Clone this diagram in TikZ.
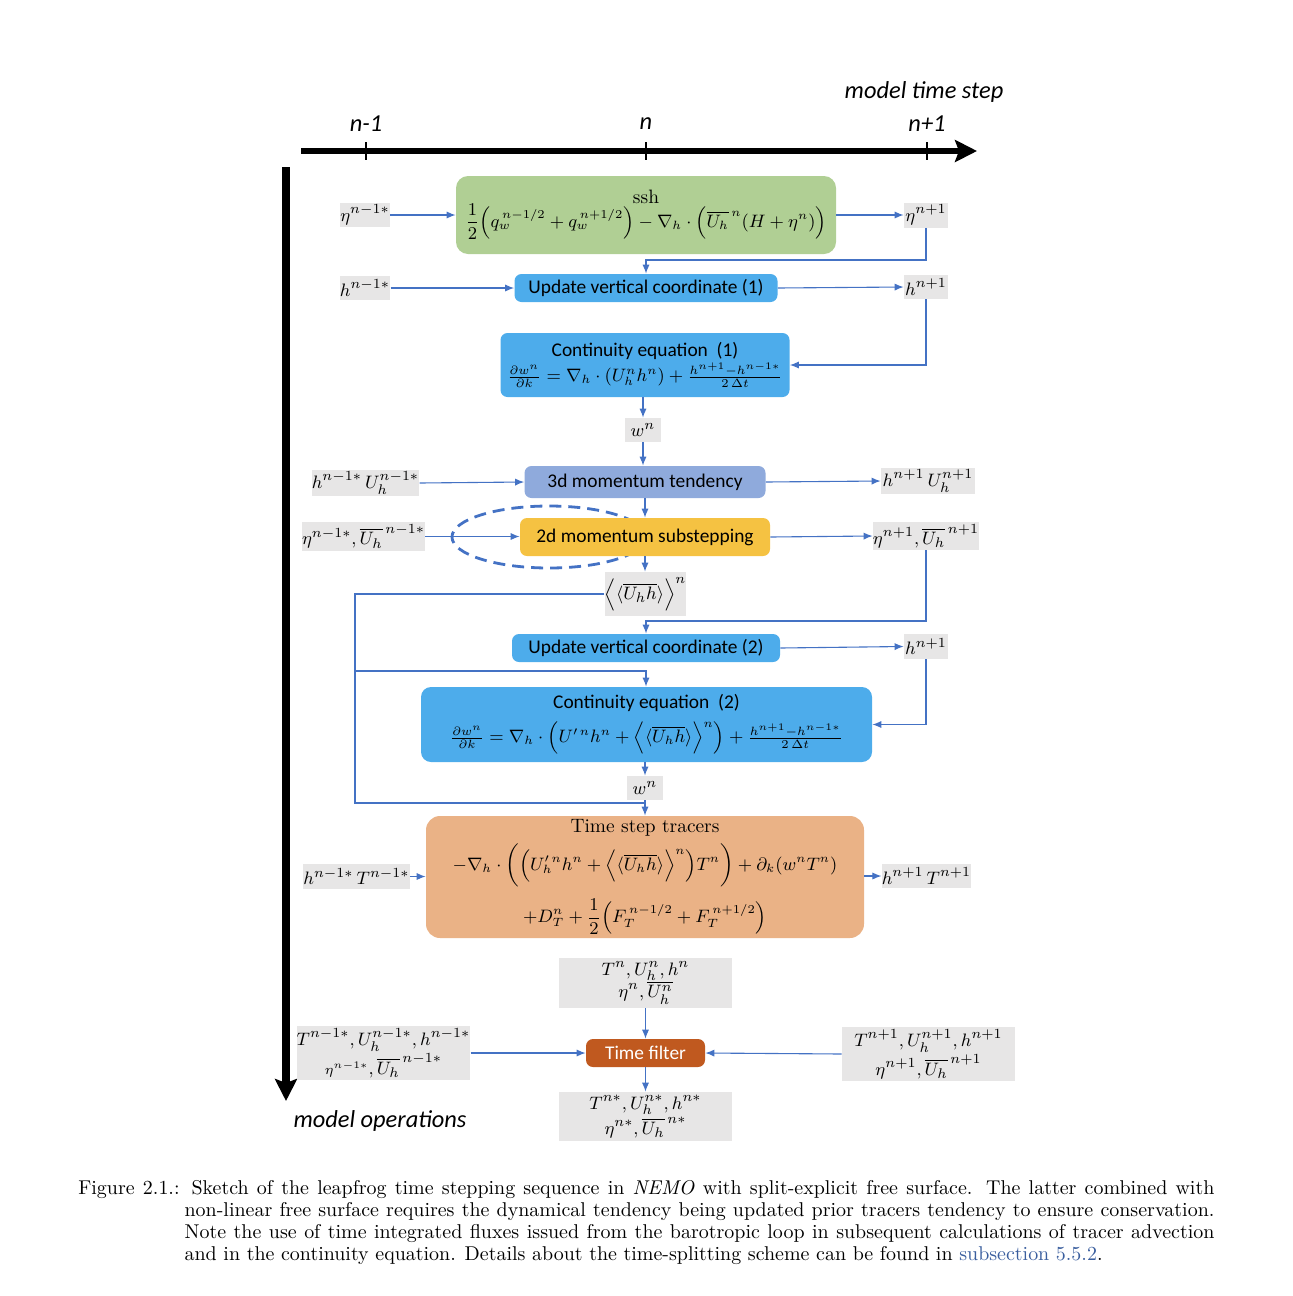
\documentclass[tikz,border=0pt]{standalone}
\usepackage{amsmath}
\usepackage{fontspec}
\newfontfamily\carl{Carlito}
\usetikzlibrary{arrows.meta,calc}
\definecolor{cgreen}{HTML}{B0CF94}
\definecolor{cbluebox}{HTML}{4DACEB}
\definecolor{clav}{HTML}{8FAADC}
\definecolor{cyel}{HTML}{F5C242}
\definecolor{cpeach}{HTML}{EAB286}
\definecolor{cfilter}{HTML}{C0591F}
\definecolor{lgrey}{HTML}{E7E6E6}
\definecolor{cblue}{HTML}{4472C4}
\definecolor{linkblue}{HTML}{3A5E9E}
\newcommand{\fm}{\fontsize{8.9}{10.5}\selectfont}
\begin{document}
\begin{tikzpicture}[x=0.5pt,y=-0.5pt,
  lbl/.style={fill=lgrey, inner sep=0pt, align=center, font=\fontsize{9.5}{11}\selectfont},
  box/.style={rounded corners=3.5pt, inner sep=0pt, align=center, font=\carl\fontsize{9.7}{11.6}\selectfont},
  sz/.style 2 args={minimum width=#1*0.5pt, minimum height=#2*0.5pt},
  conn/.style={draw=cblue, line width=0.55pt, -{Latex[length=4.5pt,width=3.6pt]}},
  cline/.style={draw=cblue, line width=0.55pt},
  axislbl/.style={font=\carl\itshape\fontsize{12.2}{14}\selectfont, inner sep=0pt},
]
\useasboundingbox (0,0) rectangle (1292,1296);

% axes
\coordinate (ax0) at (301,151);
\coordinate (ax1) at (977,151);
\draw[line width=3pt, -{Stealth[length=11pt,width=11pt,inset=2pt]}] (ax0) -- (ax1);
\coordinate (ay0) at (286,167);
\coordinate (ay1) at (286,1101);
\draw[line width=4pt, -{Stealth[length=11pt,width=11pt,inset=2pt]}] (ay0) -- (ay1);
\foreach \xx/\nm in {366/t1,646/t2,927/t3}{
  \coordinate (\nm a) at (\xx,142);
  \coordinate (\nm b) at (\xx,160);
  \draw[line width=1pt] (\nm a) -- (\nm b);
}
\node[axislbl] (ln1) at (366,124) {n-1};
\node[axislbl] (ln2) at (646,124) {n};
\node[axislbl] (ln3) at (927,124) {n+1};
\node[axislbl] (mts) at (924,92) {model time step};
\node[axislbl] (mop) at (380,1121) {model operations};

% ssh
\node[box, fill=cgreen, rounded corners=6pt, sz={380}{78}] (ssh) at (646,215)
  {\rmfamily ssh\\[-1pt] {\fm$\dfrac{1}{2}\Big(q_w^{\,n-1/2}+q_w^{\,n+1/2}\Big)-\nabla_h\cdot\Big(\overline{U_h}^{\,n}(H+\eta^n)\Big)$}};
\node[lbl, sz={50}{24}] (etaL) at (365,215) {$\eta^{n-1*}$};
\node[lbl, sz={44}{25}] (etaR) at (926,215) {$\eta^{n+1}$};

% update 1
\node[box, fill=cbluebox, sz={263}{28}] (upd1) at (646,288) {Update vertical coordinate (1)};
\node[lbl, sz={50}{24}] (hL1) at (365,288) {$h^{n-1*}$};
\node[lbl, sz={44}{24}] (hR1) at (926,287) {$h^{n+1}$};

% continuity 1
\node[box, fill=cbluebox, sz={289}{64}] (cont1) at (645,365)
  {Continuity equation\ \ (1)\\[1pt] {\fm$\frac{\partial w^n}{\partial k}=\nabla_h\cdot(U_h^nh^n)+\frac{h^{n+1}-h^{n-1*}}{2\,\Delta t}$}};
\node[lbl, sz={36}{24}] (wn1) at (643,430) {$w^n$};

% 3d momentum
\node[box, fill=clav, sz={241}{32}] (mom3) at (645,482) {3d momentum tendency};
\node[lbl, sz={105}{26}] (m3L) at (365.5,483) {$h^{n-1*}\,U_h^{n-1*}$};
\node[lbl, sz={94}{26}] (m3R) at (928,481) {$h^{n+1}\,U_h^{n+1}$};

% 2d momentum
\coordinate (ellc) at (549,537);
\draw[cblue, line width=1.4pt, dash pattern=on 6pt off 3.5pt] (ellc) ellipse [x radius=48.5pt, y radius=15.5pt];
\node[box, fill=cyel, sz={250}{38}] (mom2) at (645,537) {2d momentum substepping};
\node[lbl, sz={115}{29}] (m2L) at (363.5,536.5) {$\eta^{n-1*},\overline{U_h}^{\,n-1*}$};
\node[lbl, sz={103}{28}] (m2R) at (926,536) {$\eta^{n+1},\overline{U_h}^{\,n+1}$};
\node[lbl, sz={75}{44}] (avg) at (645.5,594) {$\Big\langle\langle\overline{U_hh}\rangle\Big\rangle^{n}$};

% update 2
\node[box, fill=cbluebox, sz={268}{28}] (upd2) at (646,648) {Update vertical coordinate (2)};
\node[lbl, sz={44}{25}] (hR2) at (926,646.5) {$h^{n+1}$};

% continuity 2
\node[box, fill=cbluebox, rounded corners=5pt, sz={451}{75}] (cont2) at (646.5,724.5)
  {Continuity equation\ \ (2)\\[4pt] {\fm$\frac{\partial w^n}{\partial k}=\nabla_h\cdot\Big(U'^{\,n}h^n+\Big\langle\langle\overline{U_hh}\rangle\Big\rangle^{n}\Big)+\frac{h^{n+1}-h^{n-1*}}{2\,\Delta t}$}};
\node[lbl, sz={36}{24}] (wn2) at (645,788) {$w^n$};

% tracers
\node[box, fill=cpeach, rounded corners=7pt, sz={438}{122}] (tra) at (645,877)
  {\rmfamily Time step tracers\\[3pt]
   {\fm$-\nabla_h\cdot\bigg(\Big(U_h'^{\,n}h^n+\Big\langle\langle\overline{U_hh}\rangle\Big\rangle^{n}\Big)T^n\bigg)+\partial_k(w^nT^n)$}\\[5pt]
   {\fm$+D_T^n+\dfrac{1}{2}\Big(F_T^{\,n-1/2}+F_T^{\,n+1/2}\Big)$}};
\node[lbl, sz={105}{25}] (traL) at (356.5,876.5) {$h^{n-1*}\,T^{n-1*}$};
\node[lbl, sz={89}{24}] (traR) at (926.5,876) {$h^{n+1}\,T^{n+1}$};

% time filter
\node[lbl, sz={173}{50}] (top) at (645.5,983) {$T^n,U_h^n,h^n$\\$\eta^n,\overline{U_h^n}$};
\node[box, fill=cfilter, text=white, sz={119}{28}] (tf) at (645.5,1053) {Time filter};
\node[lbl, sz={173}{54}] (tfL) at (383.5,1053) {$T^{n-1*},U_h^{n-1*},h^{n-1*}$\\${\scriptstyle\eta^{n-1*}},\overline{U_h}^{\,n-1*}$};
\node[lbl, sz={173}{54}] (tfR) at (928.5,1054) {$T^{n+1},U_h^{n+1},h^{n+1}$\\$\eta^{n+1},\overline{U_h}^{\,n+1}$};
\node[lbl, sz={173}{49}] (bot) at (645.5,1116.5) {$T^{n*},U_h^{n*},h^{n*}$\\$\eta^{n*},\overline{U_h}^{\,n*}$};

% connectors
\draw[conn] (etaL.east) -- (ssh.west |- etaL.east);
\draw[conn] (ssh.east |- etaR.west) -- (etaR.west);
\coordinate (j1) at (646,260);
\draw[conn] (etaR.south) |- (j1) -- (upd1.north);
\draw[conn] (hL1.east) -- (upd1.west |- hL1.east);
\draw[conn] (upd1.east) -- (hR1.west);
\draw[conn] (hR1.south) |- (cont1.east);
\draw[conn] (cont1.south -| wn1.north) -- (wn1.north);
\draw[conn] (wn1.south) -- (mom3.north -| wn1.south);
\draw[conn] (m3L.east) -- (mom3.west);
\draw[conn] (mom3.east) -- (m3R.west);
\draw[conn] (mom3.south) -- (mom2.north);
\draw[conn] (m2L.east) -- (mom2.west |- m2L.east);
\draw[conn] (mom2.east) -- (m2R.west);
\draw[conn] (mom2.south) -- (avg.north -| mom2.south);
\coordinate (lA) at (355,671);
\coordinate (lB) at (355,803);
\coordinate (jA) at (646,671);
\coordinate (jB) at (646,803);
\draw[cline] (avg.west) -| (lB) -- (jB);
\draw[conn] (lA) -- (jA) -- (cont2.north -| jA);
\coordinate (j2) at (646,621);
\draw[conn] (m2R.south) |- (j2) -- (upd2.north);
\draw[conn] (upd2.east) -- (hR2.west);
\draw[conn] (hR2.south) |- (cont2.east);
\draw[conn] (cont2.south -| wn2.north) -- (wn2.north);
\draw[conn] (wn2.south) -- (tra.north -| wn2.south);
\draw[conn] (traL.east) -- (tra.west |- traL.east);
\draw[conn] (tra.east |- traR.west) -- (traR.west);
\draw[conn] (top.south) -- (tf.north);
\draw[conn] (tfL.east) -- (tf.west);
\draw[conn] (tfR.west) -- (tf.east);
\draw[conn] (tf.south) -- (bot.north);

% caption
\node[anchor=base west, inner sep=0pt, font=\fontsize{9.98}{11.15}\selectfont] (cap) at (78,1194)
 {\parbox[t]{568pt}{\sbox0{Figure 2.1.:\ }\hangindent=\wd0 \hangafter=1 \hyphenpenalty=10000 \tolerance=9999 \noindent
 Figure 2.1.: Sketch of the leapfrog time stepping sequence in \textit{NEMO} with split-explicit free surface.  The latter combined with\linebreak
 non-linear free surface requires the dynamical tendency being updated prior tracers tendency to ensure conservation.\linebreak
 Note the use of time integrated fluxes issued from the barotropic loop in subsequent calculations of tracer advection\linebreak
 and in the continuity equation. Details about the time-splitting scheme can be found in \textcolor{linkblue}{subsection 5.5.2}.}};
\end{tikzpicture}
\end{document}
